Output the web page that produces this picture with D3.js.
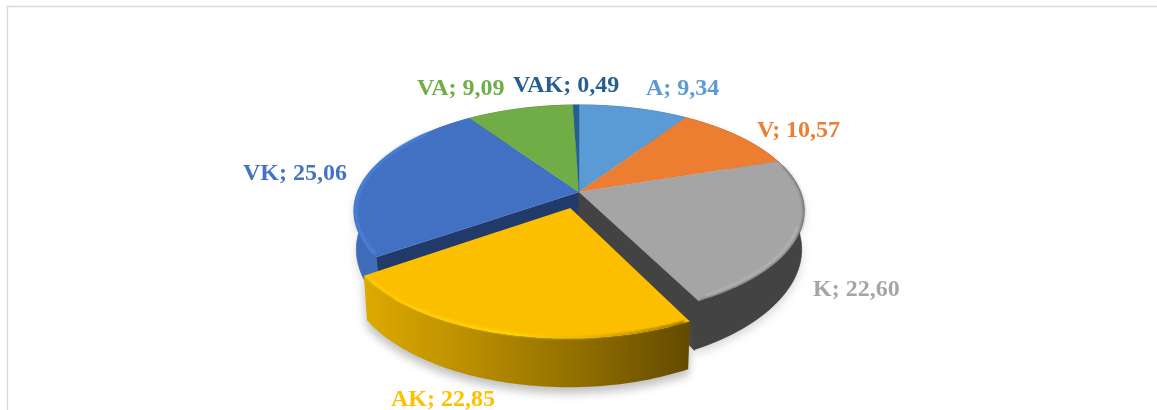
<!DOCTYPE html>
<html>
<head>
<meta charset="utf-8">
<script src="https://cdnjs.cloudflare.com/ajax/libs/d3/7.8.5/d3.min.js"></script>
<style>
html,body{margin:0;padding:0;background:#fff;overflow:hidden}
svg{display:block}
text{font-family:"Liberation Serif","Times New Roman",serif;font-weight:700}
</style>
</head>
<body>
<svg id="chart" width="1157" height="410"></svg>
<script>
const categories = ["A","V","K","AK","VK","VA","VAK"];
const seriesValues = [9.34,10.57,22.60,22.85,25.06,9.09,0.49];
const explodedCategories = ["AK"];

const topColors = {A:"#5b9bd5",V:"#ed7d31",K:"#a5a5a5",AK:"#fcbf00",VK:"#4270c2",VA:"#70ad47",VAK:"#255e91"};
const labelColors = {A:"#5b9bd5",V:"#ed7d31",K:"#a5a5a5",AK:"#ffc000",VK:"#4472c4",VA:"#70ad47",VAK:"#255e91"};
const wallColors = {A:"#3f6f9b",V:"#ad5a22",K:"#434343",AK:"#b88c00",VK:"#3f6cb8",VA:"#517e33",VAK:"#1b4469"};
const cutColors = {K:"#434343",VK:"#223a69",AK:"#b88c00"};
const labelLayout = {A:[646,95],V:[757,137],K:[813,296],AK:[391,406],VK:[243,180],VA:[417,95],VAK:[513,92]};

const W=1157,H=410;
const cx=579,cy=192,rx=221.4,ry=102.6,k=-0.179,depth=41,explode=0.156,poppedInset=0.985;

const svg=d3.select("#chart");
const defs=svg.append("defs");
defs.append("filter").attr("id","shadow").attr("x","-20%").attr("y","-20%").attr("width","140%").attr("height","140%")
  .append("feGaussianBlur").attr("stdDeviation",5);
defs.append("filter").attr("id","soft").attr("x","-5%").attr("y","-5%").attr("width","110%").attr("height","110%")
  .append("feGaussianBlur").attr("stdDeviation",0.8);

// frame
svg.append("path").attr("d",`M7.5,${H} V6.5 H${W}`).attr("fill","none").attr("stroke","#d9d9d9").attr("stroke-width",1.4);

const lineGen=d3.line();
const pie=d3.pie().sort(null).value(d=>d.value)
  .startAngle(0).endAngle(2*Math.PI);
const slices=pie(categories.map((name,i)=>({name,value:seriesValues[i]})));

const isPopped=s=>explodedCategories.includes(s.data.name);
function project(u,v){const d=1+k*v;return [cx+rx*u/d,cy+ry*v/d];}
function lower(p,v,s){
  const d=1+k*v;
  const popped=isPopped(s);
  const sc=popped?0.985:0.995-0.035*Math.max(0,v);
  return [cx+(p[0]-cx)*sc,p[1]+(popped?0.95:1)*depth/d];
}
function offsetOf(s){
  if(!isPopped(s))return [0,0];
  const m=(s.startAngle+s.endAngle)/2;
  return [Math.sin(m)*explode,-Math.cos(m)*explode];
}
function rimUV(s,a,inset){
  const o=offsetOf(s);
  const r=inset!==undefined?inset:(isPopped(s)?poppedInset:1);
  return [Math.sin(a)*r+o[0],-Math.cos(a)*r+o[1]];
}
function arcAngles(a0,a1){
  const n=Math.max(2,Math.ceil((a1-a0)/0.02));
  const sc=d3.scaleLinear().domain([0,n]).range([a0,a1]);
  return d3.range(n+1).map(sc);
}
function topPts(s){
  const o=offsetOf(s);
  return [project(o[0],o[1])].concat(arcAngles(s.startAngle,s.endAngle).map(a=>{const [u,v]=rimUV(s,a);return project(u,v);}));
}
function wallPts(s,a0,a1){
  const up=arcAngles(a0,a1).map(a=>{const [u,v]=rimUV(s,a);return {p:project(u,v),v};});
  return up.map(d=>d.p).concat(up.slice().reverse().map(d=>lower(d.p,d.v,s)));
}
function cutPts(s,a){
  const o=offsetOf(s);const [u,v]=rimUV(s,a);
  const h=project(o[0],o[1]),r=project(u,v);
  return [h,r,lower(r,v,s),lower(h,o[1],s)];
}
function closed(pts){return lineGen(pts)+"Z";}

const base=slices.filter(s=>!isPopped(s));
const popped=slices.filter(isPopped);

// soft ground shadow
const g0=svg.append("g").attr("filter","url(#shadow)").attr("opacity",0.28);
g0.selectAll("path").data(slices).join("path")
  .attr("d",s=>closed(wallPts(s,s.startAngle,s.endAngle)))
  .attr("transform","translate(0,5)")
  .attr("fill","#777");

// outer walls of the fixed slices
const gBase=svg.append("g");
gBase.selectAll("path.wall").data(base).join("path").attr("class","wall")
  .attr("d",s=>closed(wallPts(s,s.startAngle,s.endAngle)))
  .attr("fill",s=>wallColors[s.data.name])
  .attr("stroke",s=>wallColors[s.data.name]).attr("stroke-width",0.8);

// radial cut faces exposed by the exploded slice
popped.forEach(p=>{
  const before=base.find(s=>Math.abs(s.endAngle-p.startAngle)<1e-6);
  const after=base.find(s=>Math.abs(s.startAngle-p.endAngle)<1e-6);
  if(after)gBase.append("path").attr("d",closed(cutPts(after,after.startAngle))).attr("fill",cutColors[after.data.name]);
  if(before)gBase.append("path").attr("d",closed(cutPts(before,before.endAngle)))
    .attr("fill",cutColors[before.data.name]).attr("stroke",cutColors[before.data.name]).attr("stroke-width",1.2);
});

// top faces
gBase.selectAll("path.top").data(base).join("path").attr("class","top")
  .attr("d",s=>closed(topPts(s)))
  .attr("fill",s=>topColors[s.data.name])
  .attr("stroke",s=>topColors[s.data.name]).attr("stroke-width",0.4);

// bevels
function rimLine(s,a0,a1,inset){
  return lineGen(arcAngles(a0,a1).map(a=>project(...rimUV(s,a,inset))));
}
const sK=base.find(s=>s.data.name==="K"), sVK=base.find(s=>s.data.name==="VK");
gBase.append("path").attr("d",rimLine(sK,1.3,sK.endAngle-0.01,0.999))
  .attr("fill","none").attr("stroke","#4a4a4a").attr("stroke-width",1).attr("filter","url(#soft)");
gBase.append("path").attr("d",rimLine(sK,1.9,sK.endAngle-0.04,0.985))
  .attr("fill","none").attr("stroke","#e8e8e8").attr("stroke-width",1.4).attr("opacity",0.4).attr("filter","url(#soft)");
gBase.append("path").attr("d",rimLine(sVK,sVK.startAngle+0.03,sVK.endAngle-0.28,0.992))
  .attr("fill","none").attr("stroke","#4c86e0").attr("stroke-width",2.2).attr("filter","url(#soft)");

// exploded slice: shadow, wall, top, bevel
const gPop=svg.append("g");
popped.forEach(s=>{
  const wall=wallPts(s,s.startAngle,s.endAngle);
  const x0=d3.min(wall,d=>d[0]),x1=d3.max(wall,d=>d[0]);
  const grad=defs.append("linearGradient").attr("id","wall-"+s.data.name)
    .attr("gradientUnits","userSpaceOnUse").attr("x1",x0).attr("x2",x1).attr("y1",0).attr("y2",0);
  [["0","#dcaa00"],["0.3","#bd9000"],["0.65","#927000"],["1","#644a00"]].forEach(([o,c])=>grad.append("stop").attr("offset",o).attr("stop-color",c));
  const rimGrad=defs.append("linearGradient").attr("id","rim-"+s.data.name)
    .attr("gradientUnits","userSpaceOnUse").attr("x1",x0).attr("x2",x1).attr("y1",0).attr("y2",0);
  [["0","#ffcf00"],["0.45","#ffe000"],["0.7","#e0aa00"],["1","#6e5200"]].forEach(([o,c])=>rimGrad.append("stop").attr("offset",o).attr("stop-color",c));
  gPop.append("path").attr("d",closed(wall)).attr("transform","translate(0,6)")
    .attr("fill","#777").attr("opacity",0.26).attr("filter","url(#shadow)");
  gPop.append("path").attr("d",closed(wall)).attr("fill",`url(#wall-${s.data.name})`);
  gPop.append("path").attr("d",closed(topPts(s))).attr("fill",topColors[s.data.name]);
  gPop.append("path").attr("d",rimLine(s,s.startAngle+0.02,s.endAngle-0.01,poppedInset-0.006))
    .attr("fill","none").attr("stroke",`url(#rim-${s.data.name})`).attr("stroke-width",2).attr("filter","url(#soft)");
});

// data labels
svg.append("g").selectAll("text").data(slices).join("text")
  .attr("x",s=>labelLayout[s.data.name][0])
  .attr("y",s=>labelLayout[s.data.name][1])
  .attr("font-size",24)
  .attr("fill",s=>labelColors[s.data.name])
  .text(s=>`${s.data.name}; ${s.data.value.toFixed(2).replace(".",",")}`);
</script>
</body>
</html>
